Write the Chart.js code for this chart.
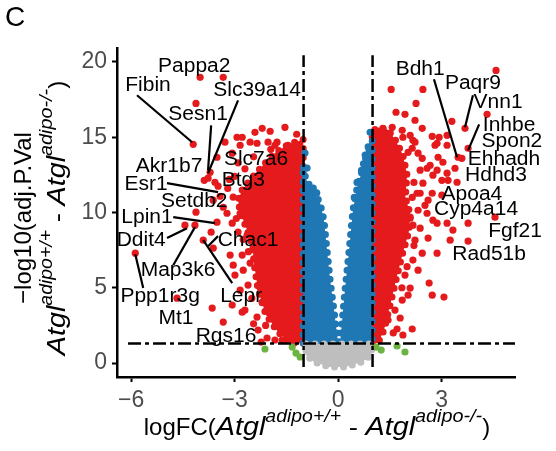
<!DOCTYPE html>
<html>
<head>
<meta charset="utf-8">
<script src="https://cdn.jsdelivr.net/npm/chart.js@4.4.0/dist/chart.umd.min.js"></script>
<style>
  html, body { margin: 0; padding: 0; background: #fff; }
  #wrap { width: 556px; height: 451px; }
</style>
</head>
<body>
<div id="wrap"><canvas id="volcano" width="556" height="451"></canvas></div>
<script>
// ticks
const fcTicks = [-6, -3, 0, 3];
const logPTicks = [0, 5, 10, 15, 20];

// cut-offs: |logFC| = 1, adj.P = 0.05
const fcCutoffs = [-1, 1];
const pCutoff = 1.3;
const vlineSpan = [-0.27, 20.45];
const hlineSpan = [-6.09, 5.13];

// outlines of the dense clouds, [logFC, -log10 adj.P]
const redLeftCloud = [[-1.01, 1.33], [-1.39, 1.33], [-1.74, 2.06], [-2.09, 3.19], [-2.32, 4.85], [-2.43, 6.51],
  [-2.49, 7.84], [-2.66, 8.97], [-2.84, 10.03], [-2.90, 10.83], [-2.78, 11.50], [-2.50, 12.29], [-2.17, 13.16],
  [-1.83, 13.95], [-1.45, 14.52], [-1.01, 14.85]];
const redRightCloud = [[0.99, 1.33], [1.16, 1.33], [1.33, 2.19], [1.51, 3.85], [1.68, 5.51], [1.86, 7.18],
  [2.05, 8.70], [2.10, 9.83], [1.95, 11.03], [2.00, 12.49], [1.88, 13.82], [1.66, 14.82], [1.45, 15.50],
  [1.16, 15.65], [0.99, 15.40]];
const blueLeftCloud = [[-1.01, 1.33], [0, 1.33], [-0.12, 3.52], [-0.23, 5.51], [-0.32, 7.51], [-0.41, 9.50],
  [-0.52, 10.63], [-0.72, 11.50], [-0.93, 12.16], [-1.01, 13.12]];
const blueRightCloud = [[0.06, 1.33], [0.99, 1.33], [0.99, 14.82], [0.81, 14.15], [0.70, 12.82], [0.55, 11.63],
  [0.43, 10.17], [0.32, 7.51], [0.20, 4.85], [0.12, 2.86]];
const greyCloud = [[-0.93, 1.26], [0.99, 1.26], [0.96, 0.53], [0.70, 0.07], [0.20, -0.27], [-0.23, -0.27],
  [-0.70, 0.07], [-0.93, 0.53]];

// single genes outside the clouds
const sigLeft = [[-4.00, 18.98], [-3.33, 18.98], [-4.12, 17.25], [-4.20, 14.53], [-2.20, 15.59], [-1.97, 15.40],
  [-1.54, 15.66], [-2.41, 15.33], [-2.93, 15.00], [-2.78, 15.00], [-2.55, 14.67], [-2.35, 14.60], [-2.03, 14.67],
  [-1.77, 14.67], [-1.45, 14.47], [-2.84, 14.47], [-3.28, 14.67], [-3.07, 13.94], [-1.83, 14.47], [-3.51, 13.67],
  [-3.71, 12.67], [-3.77, 12.28], [-3.57, 12.01], [-3.48, 11.75], [-3.62, 10.82], [-3.42, 11.08], [-3.33, 10.35],
  [-3.22, 9.95], [-4.12, 10.02], [-3.51, 9.36], [-3.07, 9.29], [-2.84, 9.95], [-4.44, 9.16], [-4.15, 9.16],
  [-3.91, 8.16], [-3.68, 8.69], [-3.13, 7.17], [-2.78, 7.17], [-3.04, 6.50], [-2.99, 5.84], [-2.75, 6.17],
  [-2.55, 6.64], [-2.61, 5.18], [-2.26, 4.98], [-2.20, 4.05], [-2.06, 3.52], [-1.88, 3.52], [-3.65, 3.65],
  [-3.07, 3.85], [-2.78, 3.38], [-3.33, 2.72], [-2.32, 2.19], [-2.06, 1.66], [-1.83, 1.53], [-1.62, 1.53],
  [-2.23, 1.39], [-5.88, 7.30], [-4.67, 4.31], [-2.84, 4.84], [-2.70, 3.52], [-2.35, 3.05], [-2.64, 8.49],
  [-2.46, 7.70], [-3.62, 7.63], [-3.04, 11.02], [-2.90, 8.70], [-3.88, 12.14], [-3.00, 12.40], [-2.70, 12.90],
  [-2.45, 13.70], [-2.90, 13.30], [-3.15, 12.20], [-3.20, 11.60], [-2.95, 9.60], [-2.75, 8.20], [-2.60, 7.40],
  [-2.50, 4.30], [-2.45, 2.60], [-2.10, 2.50], [-1.95, 14.20], [-1.20, 15.20]];
const sigRight = [[4.58, 19.44], [1.54, 18.18], [2.46, 18.18], [2.26, 17.25], [1.68, 16.66], [1.94, 16.52],
  [4.32, 16.52], [3.30, 16.06], [2.23, 16.13], [2.44, 15.59], [3.68, 15.59], [2.73, 15.06], [2.93, 15.00],
  [3.16, 15.13], [1.88, 15.00], [2.17, 14.80], [2.81, 14.47], [2.15, 14.27], [2.44, 13.60], [2.67, 13.14],
  [2.90, 13.67], [3.04, 13.34], [3.77, 14.27], [3.48, 13.67], [3.59, 13.60], [3.39, 12.94], [2.38, 12.81],
  [2.75, 12.48], [3.16, 12.61], [3.01, 12.14], [3.45, 12.01], [2.46, 11.95], [2.73, 11.28], [3.01, 11.15],
  [2.38, 11.28], [2.52, 10.48], [4.55, 9.69], [2.87, 9.29], [3.16, 9.29], [3.33, 8.83], [3.77, 9.29],
  [2.61, 8.30], [3.25, 8.16], [3.77, 8.10], [2.87, 7.30], [2.64, 5.31], [2.73, 4.51], [3.07, 4.38],
  [2.09, 4.98], [2.03, 4.51], [1.86, 4.18], [2.44, 7.30], [2.17, 6.84], [1.80, 2.99], [2.15, 2.26],
  [1.88, 1.86], [1.71, 2.26], [1.30, 15.59], [1.57, 15.66], [1.86, 15.46], [2.09, 15.13], [2.87, 14.60],
  [3.16, 14.47], [2.23, 14.67], [2.03, 14.00], [2.32, 13.94], [2.58, 12.94], [2.87, 12.81], [3.19, 12.14],
  [2.29, 11.28], [2.61, 10.82], [2.32, 10.15], [2.58, 9.95], [2.75, 9.49], [2.09, 9.69], [2.17, 9.16],
  [2.38, 8.96], [2.23, 8.16], [2.32, 6.17], [1.94, 5.84], [1.65, 3.52], [1.45, 2.85], [2.20, 12.00],
  [2.15, 11.00], [2.20, 7.80], [2.00, 6.40], [1.85, 5.00], [1.60, 2.00]];
const blueTops = [[-0.96, 13.95], [-0.90, 12.95], [-0.72, 11.62], [-0.62, 11.30], [0.93, 15.33], [0.90, 14.20],
  [0.80, 13.60], [0.68, 12.80], [0.55, 12.00], [0.47, 11.00]];
const fcOnly = [[-2.12, 0.93], [-1.33, 1.06], [-1.22, 0.66], [-1.10, 0.40], [1.10, 1.06], [1.25, 0.86],
  [1.71, 1.13], [1.94, 0.73]];

// gene names and where they sit
const geneLabels = [
  ["Pappa2", -4.17, 19.73], ["Fibin", -5.51, 18.47], ["Slc39a14", -2.35, 18.14], ["Sesn1", -4.06, 16.54],
  ["Akr1b7", -4.90, 13.09], ["Slc7a6", -2.38, 13.55], ["Btg3", -2.75, 12.16], ["Esr1", -5.57, 11.83],
  ["Setdb2", -4.17, 10.76], ["Lpin1", -5.54, 9.70], ["Ddit4", -5.71, 8.11], ["Chac1", -2.61, 8.17],
  ["Map3k6", -4.64, 6.18], ["Ppp1r3g", -5.16, 4.39], ["Lepr", -2.81, 4.39], ["Mt1", -4.70, 2.99],
  ["Rgs16", -3.25, 1.79], ["Bdh1", 2.38, 19.47], ["Paqr9", 3.91, 18.54], ["Vnn1", 4.64, 17.28],
  ["Inhbe", 4.96, 15.81], ["Spon2", 5.04, 14.75], ["Ehhadh", 4.81, 13.55], ["Hdhd3", 4.58, 12.43],
  ["Apoa4", 3.88, 11.23], ["Cyp4a14", 4.00, 10.17], ["Fgf21", 5.13, 8.77], ["Rad51b", 4.38, 7.18]];
const leaderLines = [
  [-5.83, 17.79, -4.23, 14.67], [-3.68, 15.79, -3.77, 12.81], [-2.90, 17.45, -3.77, 12.61],
  [-4.96, 11.95, -3.48, 11.35], [-4.78, 9.69, -3.57, 9.29], [-4.96, 8.30, -4.38, 8.96],
  [-4.78, 6.50, -4.15, 9.03], [-3.48, 8.43, -3.77, 7.76], [-3.07, 5.31, -3.91, 8.16],
  [-5.65, 4.98, -5.88, 7.23], [2.78, 18.85, 3.45, 13.67], [3.91, 17.79, 3.68, 15.66],
  [4.09, 15.86, 3.77, 14.13]];

const RED = "#E41A1C";
const BLUE = "#1F77B4";
const GREY = "#BEBEBE";
const GREEN = "#6DB344";
const FONT = "'Liberation Sans', Arial, sans-serif";

const toPts = (arr) => arr.map((p) => ({ x: p[0], y: p[1] }));
const ring = (arr) => toPts(arr.concat([arr[0]]));

// a dense cloud: filled outline, with a dotted rim so the edge looks speckled
function cloud(arr, color) {
  return {
    data: ring(arr), showLine: true, fill: "shape", backgroundColor: color, borderColor: color,
    borderWidth: 7, borderCapStyle: "round", borderJoinStyle: "round", borderDash: [0, 9],
    pointRadius: 0, tension: 0, order: 5,
  };
}
function dots(arr, color, order) {
  return { data: toPts(arr), backgroundColor: color, borderWidth: 0, pointRadius: 3.6, order };
}
function cutLine(pts) {
  return {
    data: pts, showLine: true, borderColor: "#000", borderWidth: 2.5, borderDash: [13, 4, 4, 4],
    pointRadius: 0, fill: false, order: 1,
  };
}

const datasets = [
  cloud(greyCloud, GREY),
  cloud(blueLeftCloud, BLUE),
  cloud(blueRightCloud, BLUE),
  cloud(redLeftCloud, RED),
  cloud(redRightCloud, RED),
  dots(blueTops, BLUE, 3),
  dots(fcOnly, GREEN, 3),
  dots(sigLeft, RED, 2),
  dots(sigRight, RED, 2),
];
fcCutoffs.forEach((fc) => {
  datasets.push(cutLine([{ x: fc, y: vlineSpan[0] }, { x: fc, y: vlineSpan[1] }]));
});
datasets.push(cutLine([{ x: hlineSpan[0], y: pCutoff }, { x: hlineSpan[1], y: pCutoff }]));

function drawRuns(ctx, runs, x, y) {
  let total = 0;
  runs.forEach((r) => {
    ctx.font = r.font;
    r.w = ctx.measureText(r.t).width * (r.sx || 1);
    total += r.w;
  });
  let cx = x - total / 2;
  runs.forEach((r) => {
    ctx.save();
    ctx.font = r.font;
    ctx.translate(cx, y + (r.dy || 0));
    ctx.scale(r.sx || 1, 1);
    ctx.fillText(r.t, 0, 0);
    ctx.restore();
    cx += r.w;
  });
}

const atglRuns = [
  { t: "Atgl", font: `italic 25px ${FONT}`, sx: 1.15 },
  { t: "adipo+/+", font: `italic 18px ${FONT}`, dy: -13, sx: 1.08 },
  { t: " - ", font: `24px ${FONT}`, sx: 1.15 },
  { t: "Atgl", font: `italic 25px ${FONT}`, sx: 1.15 },
  { t: "adipo-/-", font: `italic 18px ${FONT}`, dy: -13, sx: 1.1 },
];

const textPlugin = {
  id: "texts",
  afterDraw(chart) {
    const { ctx } = chart;
    const xs = chart.scales.x;
    const ys = chart.scales.y;
    ctx.save();
    ctx.fillStyle = "#000";
    ctx.textBaseline = "alphabetic";
    ctx.textAlign = "left";

    ctx.font = `28px ${FONT}`;
    ctx.fillText("C", 5, 26);

    drawRuns(ctx, [{ t: "logFC(", font: `24px ${FONT}` }].concat(atglRuns,
      [{ t: ")", font: `24px ${FONT}` }]), 317, 435);

    ctx.save();
    ctx.translate(31, 218);
    ctx.rotate(-Math.PI / 2);
    drawRuns(ctx, [{ t: "\u2212log10(adj.P.Val", font: `24px ${FONT}` }], 0, 0);
    ctx.restore();
    ctx.save();
    ctx.translate(65, 218);
    ctx.rotate(-Math.PI / 2);
    drawRuns(ctx, atglRuns.concat([{ t: ")", font: `24px ${FONT}` }]), 0, 0);
    ctx.restore();

    ctx.strokeStyle = "#000";
    ctx.lineWidth = 2.2;
    leaderLines.forEach((l) => {
      ctx.beginPath();
      ctx.moveTo(xs.getPixelForValue(l[0]), ys.getPixelForValue(l[1]));
      ctx.lineTo(xs.getPixelForValue(l[2]), ys.getPixelForValue(l[3]));
      ctx.stroke();
    });

    ctx.textAlign = "center";
    ctx.textBaseline = "middle";
    ctx.font = `20px ${FONT}`;
    geneLabels.forEach((g) => {
      ctx.save();
      ctx.translate(xs.getPixelForValue(g[1]), ys.getPixelForValue(g[2]));
      ctx.scale(1.05, 1);
      ctx.fillText(g[0], 0, 0);
      ctx.restore();
    });
    ctx.restore();
  },
};

const tickFont = { family: FONT, size: 23 };
const minus = (v) => String(v).replace("-", "\u2212");

new Chart(document.getElementById("volcano"), {
  type: "scatter",
  data: { datasets },
  options: {
    responsive: false,
    animation: false,
    events: [],
    layout: { padding: { left: 0, right: 41, top: 48, bottom: 0 } },
    plugins: { legend: { display: false }, tooltip: { enabled: false } },
    scales: {
      x: {
        type: "linear", min: -6.41, max: 5.13,
        afterBuildTicks: (s) => { s.ticks = fcTicks.map((v) => ({ value: v })); },
        afterFit: (s) => { s.height = 74; },
        grid: { drawOnChartArea: false, drawTicks: true, tickLength: 5, tickColor: "#000", tickWidth: 2 },
        border: { display: true, color: "#000", width: 2.5 },
        ticks: { font: tickFont, color: "#4D4D4D", padding: 5, callback: minus },
      },
      y: {
        type: "linear", min: -0.93, max: 20.93,
        afterBuildTicks: (s) => { s.ticks = logPTicks.map((v) => ({ value: v })); },
        afterFit: (s) => { s.width = 117; },
        grid: { drawOnChartArea: false, drawTicks: true, tickLength: 5, tickColor: "#000", tickWidth: 2 },
        border: { display: true, color: "#000", width: 2.5 },
        ticks: { font: tickFont, color: "#4D4D4D", padding: 5 },
      },
    },
  },
  plugins: [textPlugin],
});
</script>
</body>
</html>
